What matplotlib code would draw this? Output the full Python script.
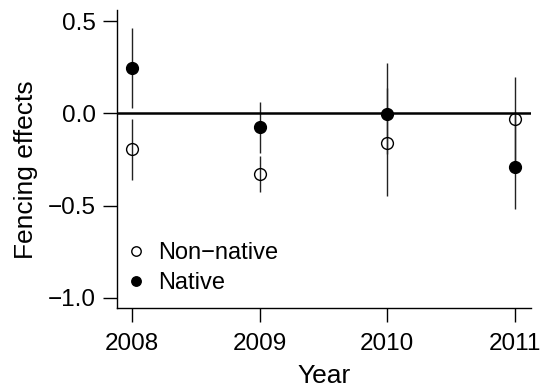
import numpy as np
import matplotlib
matplotlib.use('Agg')
import matplotlib.pyplot as plt

# values
years = [2008, 2009, 2010, 2011]

native = [0.248, -0.074, -0.005, -0.289]
native_lo = [0.03, -0.213, -0.22, -0.52]
native_hi = [0.464, 0.063, 0.275, 0.005]

nonnative = [-0.195, -0.327, -0.163, -0.033]
nonnative_lo = [-0.36, -0.427, -0.448, -0.30]
nonnative_hi = [-0.03, -0.231, 0.14, 0.199]

yticks = [-1.0, -0.5, 0.0, 0.5]

plt.rcParams['font.family'] = ['Liberation Sans', 'DejaVu Sans']

fig = plt.figure(figsize=(5.46, 3.88), dpi=100)
ax = fig.add_axes([0.2137, 0.2054, 0.7588, 0.7686])

# confidence intervals
ax.vlines(years, native_lo, native_hi, color='#222222', lw=1.0, zorder=2)
ax.vlines(years, nonnative_lo, nonnative_hi, color='#222222', lw=1.0, zorder=2)

# zero reference line
ax.axhline(0, color='black', lw=1.8, zorder=3)

ax.plot(years, nonnative, 'o', ms=8.5, mfc='none', mec='black', mew=1.0,
        ls='none', label='Non\u2212native', zorder=4)
ax.plot(years, native, 'o', ms=8.5, mfc='black', mec='black',
        ls='none', label='Native', zorder=4)

ax.set_xlim(2007.88, 2011.125)
ax.set_ylim(-1.057, 0.56)
ax.set_xticks(years)
ax.set_xticklabels([str(y) for y in years])
ax.set_yticks(yticks)
ax.set_yticklabels([('%.1f' % v).replace('-', '\u2212') for v in yticks])

ax.spines['top'].set_visible(False)
ax.spines['right'].set_visible(False)
for s in ['left', 'bottom']:
    ax.spines[s].set_linewidth(1.0)
ax.tick_params(axis='both', length=10, width=1.0, labelsize=17.5)
ax.tick_params(axis='x', pad=8)
ax.tick_params(axis='y', pad=5)

ax.set_xlabel('Year', fontsize=19, labelpad=6)
ax.set_ylabel('Fencing effects', fontsize=19)
ax.yaxis.set_label_coords(-0.19, 0.465)

ax.legend(loc='center left', bbox_to_anchor=(-0.025, 0.135), frameon=False,
          fontsize=17, handletextpad=0.2, labelspacing=0.32, borderpad=0,
          handlelength=1.5, markerscale=0.8)

fig.savefig('out.png', dpi=100)
